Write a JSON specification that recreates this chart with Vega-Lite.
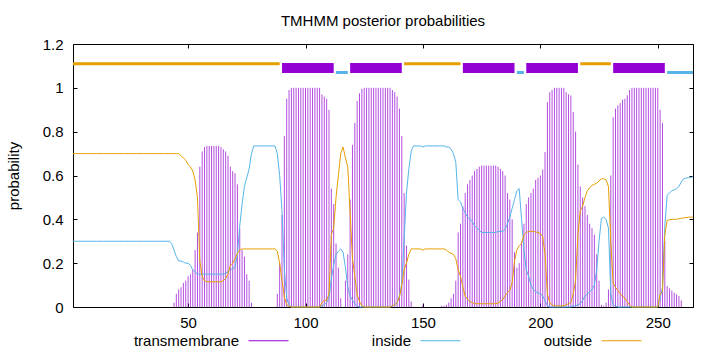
{
  "$schema": "https://vega.github.io/schema/vega-lite/v6.json",
  "width": 620,
  "height": 263,
  "autosize": {"type": "none"},
  "padding": {"left": 73, "top": 44, "right": 27, "bottom": 45},
  "background": "white",
  "title": {"text": "TMHMM posterior probabilities", "font": "Liberation Sans", "fontSize": 15, "fontWeight": "normal", "color": "black", "offset": -7, "baseline": "bottom"},
  "config": {
    "font": "Liberation Sans",
    "view": {"stroke": "black", "strokeWidth": 1},
    "legend": {
      "orient": "none", "legendX": 175, "legendY": 276, "direction": "horizontal",
      "symbolType": "stroke", "symbolSize": 1600, "symbolStrokeWidth": 1,
      "labelAlign": "right", "labelOffset": -50, "labelFont": "Liberation Sans", "labelFontSize": 15, "labelColor": "black",
      "columnPadding": 80, "padding": 0
    }
  },
  "datasets": {
    "seg": [
      {"type": "outside", "start": 1, "end": 89},
      {"type": "TM", "start": 90, "end": 112},
      {"type": "inside", "start": 113, "end": 118},
      {"type": "TM", "start": 119, "end": 141},
      {"type": "outside", "start": 142, "end": 166},
      {"type": "TM", "start": 167, "end": 189},
      {"type": "inside", "start": 190, "end": 193},
      {"type": "TM", "start": 194, "end": 216},
      {"type": "outside", "start": 217, "end": 230},
      {"type": "TM", "start": 231, "end": 253},
      {"type": "inside", "start": 254, "end": 265}
    ],
    "prob": [
      {"pos":1,"transmembrane":0,"inside":0.3,"outside":0.7},
      {"pos":2,"transmembrane":0,"inside":0.3,"outside":0.7},
      {"pos":3,"transmembrane":0,"inside":0.3,"outside":0.7},
      {"pos":4,"transmembrane":0,"inside":0.3,"outside":0.7},
      {"pos":5,"transmembrane":0,"inside":0.3,"outside":0.7},
      {"pos":6,"transmembrane":0,"inside":0.3,"outside":0.7},
      {"pos":7,"transmembrane":0,"inside":0.3,"outside":0.7},
      {"pos":8,"transmembrane":0,"inside":0.3,"outside":0.7},
      {"pos":9,"transmembrane":0,"inside":0.3,"outside":0.7},
      {"pos":10,"transmembrane":0,"inside":0.3,"outside":0.7},
      {"pos":11,"transmembrane":0,"inside":0.3,"outside":0.7},
      {"pos":12,"transmembrane":0,"inside":0.3,"outside":0.7},
      {"pos":13,"transmembrane":0,"inside":0.3,"outside":0.7},
      {"pos":14,"transmembrane":0,"inside":0.3,"outside":0.7},
      {"pos":15,"transmembrane":0,"inside":0.3,"outside":0.7},
      {"pos":16,"transmembrane":0,"inside":0.3,"outside":0.7},
      {"pos":17,"transmembrane":0,"inside":0.3,"outside":0.7},
      {"pos":18,"transmembrane":0,"inside":0.3,"outside":0.7},
      {"pos":19,"transmembrane":0,"inside":0.3,"outside":0.7},
      {"pos":20,"transmembrane":0,"inside":0.3,"outside":0.7},
      {"pos":21,"transmembrane":0,"inside":0.3,"outside":0.7},
      {"pos":22,"transmembrane":0,"inside":0.3,"outside":0.7},
      {"pos":23,"transmembrane":0,"inside":0.3,"outside":0.7},
      {"pos":24,"transmembrane":0,"inside":0.3,"outside":0.7},
      {"pos":25,"transmembrane":0,"inside":0.3,"outside":0.7},
      {"pos":26,"transmembrane":0,"inside":0.3,"outside":0.7},
      {"pos":27,"transmembrane":0,"inside":0.3,"outside":0.7},
      {"pos":28,"transmembrane":0,"inside":0.3,"outside":0.7},
      {"pos":29,"transmembrane":0,"inside":0.3,"outside":0.7},
      {"pos":30,"transmembrane":0,"inside":0.3,"outside":0.7},
      {"pos":31,"transmembrane":0,"inside":0.3,"outside":0.7},
      {"pos":32,"transmembrane":0,"inside":0.3,"outside":0.7},
      {"pos":33,"transmembrane":0,"inside":0.3,"outside":0.7},
      {"pos":34,"transmembrane":0,"inside":0.3,"outside":0.7},
      {"pos":35,"transmembrane":0,"inside":0.3,"outside":0.7},
      {"pos":36,"transmembrane":0,"inside":0.3,"outside":0.7},
      {"pos":37,"transmembrane":0,"inside":0.3,"outside":0.7},
      {"pos":38,"transmembrane":0,"inside":0.3,"outside":0.7},
      {"pos":39,"transmembrane":0,"inside":0.3,"outside":0.7},
      {"pos":40,"transmembrane":0,"inside":0.3,"outside":0.7},
      {"pos":41,"transmembrane":0,"inside":0.3,"outside":0.7},
      {"pos":42,"transmembrane":0,"inside":0.3,"outside":0.7},
      {"pos":43,"transmembrane":0,"inside":0.29,"outside":0.7},
      {"pos":44,"transmembrane":0.02,"inside":0.26,"outside":0.7},
      {"pos":45,"transmembrane":0.06,"inside":0.23,"outside":0.7},
      {"pos":46,"transmembrane":0.08,"inside":0.21,"outside":0.7},
      {"pos":47,"transmembrane":0.09,"inside":0.21,"outside":0.69},
      {"pos":48,"transmembrane":0.11,"inside":0.205,"outside":0.68},
      {"pos":49,"transmembrane":0.12,"inside":0.2,"outside":0.67},
      {"pos":50,"transmembrane":0.14,"inside":0.2,"outside":0.65},
      {"pos":51,"transmembrane":0.15,"inside":0.19,"outside":0.64},
      {"pos":52,"transmembrane":0.17,"inside":0.17,"outside":0.62},
      {"pos":53,"transmembrane":0.26,"inside":0.16,"outside":0.58},
      {"pos":54,"transmembrane":0.34,"inside":0.15,"outside":0.5},
      {"pos":55,"transmembrane":0.64,"inside":0.15,"outside":0.21},
      {"pos":56,"transmembrane":0.71,"inside":0.15,"outside":0.14},
      {"pos":57,"transmembrane":0.73,"inside":0.15,"outside":0.12},
      {"pos":58,"transmembrane":0.735,"inside":0.15,"outside":0.115},
      {"pos":59,"transmembrane":0.735,"inside":0.15,"outside":0.115},
      {"pos":60,"transmembrane":0.735,"inside":0.15,"outside":0.115},
      {"pos":61,"transmembrane":0.735,"inside":0.15,"outside":0.115},
      {"pos":62,"transmembrane":0.735,"inside":0.15,"outside":0.115},
      {"pos":63,"transmembrane":0.735,"inside":0.15,"outside":0.115},
      {"pos":64,"transmembrane":0.73,"inside":0.15,"outside":0.115},
      {"pos":65,"transmembrane":0.72,"inside":0.15,"outside":0.12},
      {"pos":66,"transmembrane":0.71,"inside":0.155,"outside":0.13},
      {"pos":67,"transmembrane":0.69,"inside":0.16,"outside":0.15},
      {"pos":68,"transmembrane":0.64,"inside":0.17,"outside":0.19},
      {"pos":69,"transmembrane":0.62,"inside":0.175,"outside":0.2},
      {"pos":70,"transmembrane":0.61,"inside":0.18,"outside":0.22},
      {"pos":71,"transmembrane":0.56,"inside":0.24,"outside":0.245},
      {"pos":72,"transmembrane":0.36,"inside":0.37,"outside":0.26},
      {"pos":73,"transmembrane":0.26,"inside":0.47,"outside":0.265},
      {"pos":74,"transmembrane":0.23,"inside":0.55,"outside":0.265},
      {"pos":75,"transmembrane":0.15,"inside":0.59,"outside":0.265},
      {"pos":76,"transmembrane":0.12,"inside":0.63,"outside":0.265},
      {"pos":77,"transmembrane":0.02,"inside":0.7,"outside":0.265},
      {"pos":78,"transmembrane":0,"inside":0.735,"outside":0.265},
      {"pos":79,"transmembrane":0,"inside":0.735,"outside":0.265},
      {"pos":80,"transmembrane":0,"inside":0.735,"outside":0.265},
      {"pos":81,"transmembrane":0,"inside":0.735,"outside":0.265},
      {"pos":82,"transmembrane":0,"inside":0.735,"outside":0.265},
      {"pos":83,"transmembrane":0,"inside":0.735,"outside":0.265},
      {"pos":84,"transmembrane":0,"inside":0.735,"outside":0.265},
      {"pos":85,"transmembrane":0,"inside":0.735,"outside":0.265},
      {"pos":86,"transmembrane":0,"inside":0.735,"outside":0.265},
      {"pos":87,"transmembrane":0,"inside":0.735,"outside":0.265},
      {"pos":88,"transmembrane":0.06,"inside":0.7,"outside":0.255},
      {"pos":89,"transmembrane":0.2,"inside":0.6,"outside":0.2},
      {"pos":90,"transmembrane":0.42,"inside":0.44,"outside":0.12},
      {"pos":91,"transmembrane":0.78,"inside":0.17,"outside":0.045},
      {"pos":92,"transmembrane":0.95,"inside":0.04,"outside":0.01},
      {"pos":93,"transmembrane":0.99,"inside":0.01,"outside":0.003},
      {"pos":94,"transmembrane":1,"inside":0,"outside":0},
      {"pos":95,"transmembrane":1,"inside":0,"outside":0},
      {"pos":96,"transmembrane":1,"inside":0,"outside":0},
      {"pos":97,"transmembrane":1,"inside":0,"outside":0},
      {"pos":98,"transmembrane":1,"inside":0,"outside":0},
      {"pos":99,"transmembrane":1,"inside":0,"outside":0},
      {"pos":100,"transmembrane":1,"inside":0,"outside":0},
      {"pos":101,"transmembrane":1,"inside":0,"outside":0},
      {"pos":102,"transmembrane":1,"inside":0,"outside":0},
      {"pos":103,"transmembrane":1,"inside":0,"outside":0},
      {"pos":104,"transmembrane":1,"inside":0,"outside":0},
      {"pos":105,"transmembrane":1,"inside":0,"outside":0},
      {"pos":106,"transmembrane":1,"inside":0,"outside":0},
      {"pos":107,"transmembrane":0.97,"inside":0.005,"outside":0.02},
      {"pos":108,"transmembrane":0.96,"inside":0.01,"outside":0.03},
      {"pos":109,"transmembrane":0.95,"inside":0.02,"outside":0.03},
      {"pos":110,"transmembrane":0.9,"inside":0.04,"outside":0.06},
      {"pos":111,"transmembrane":0.54,"inside":0.13,"outside":0.33},
      {"pos":112,"transmembrane":0.47,"inside":0.19,"outside":0.36},
      {"pos":113,"transmembrane":0.29,"inside":0.24,"outside":0.5},
      {"pos":114,"transmembrane":0.18,"inside":0.255,"outside":0.6},
      {"pos":115,"transmembrane":0.04,"inside":0.265,"outside":0.7},
      {"pos":116,"transmembrane":0,"inside":0.25,"outside":0.73},
      {"pos":117,"transmembrane":0.12,"inside":0.18,"outside":0.68},
      {"pos":118,"transmembrane":0.24,"inside":0.09,"outside":0.64},
      {"pos":119,"transmembrane":0.49,"inside":0.05,"outside":0.43},
      {"pos":120,"transmembrane":0.74,"inside":0.03,"outside":0.22},
      {"pos":121,"transmembrane":0.84,"inside":0.015,"outside":0.14},
      {"pos":122,"transmembrane":0.94,"inside":0.005,"outside":0.055},
      {"pos":123,"transmembrane":0.975,"inside":0,"outside":0.025},
      {"pos":124,"transmembrane":0.995,"inside":0,"outside":0.005},
      {"pos":125,"transmembrane":1,"inside":0,"outside":0},
      {"pos":126,"transmembrane":1,"inside":0,"outside":0},
      {"pos":127,"transmembrane":1,"inside":0,"outside":0},
      {"pos":128,"transmembrane":1,"inside":0,"outside":0},
      {"pos":129,"transmembrane":1,"inside":0,"outside":0},
      {"pos":130,"transmembrane":1,"inside":0,"outside":0},
      {"pos":131,"transmembrane":1,"inside":0,"outside":0},
      {"pos":132,"transmembrane":1,"inside":0,"outside":0},
      {"pos":133,"transmembrane":1,"inside":0,"outside":0},
      {"pos":134,"transmembrane":1,"inside":0,"outside":0},
      {"pos":135,"transmembrane":1,"inside":0,"outside":0},
      {"pos":136,"transmembrane":1,"inside":0,"outside":0},
      {"pos":137,"transmembrane":0.99,"inside":0.005,"outside":0.005},
      {"pos":138,"transmembrane":0.98,"inside":0.01,"outside":0.01},
      {"pos":139,"transmembrane":0.96,"inside":0.02,"outside":0.02},
      {"pos":140,"transmembrane":0.905,"inside":0.05,"outside":0.045},
      {"pos":141,"transmembrane":0.78,"inside":0.11,"outside":0.1},
      {"pos":142,"transmembrane":0.52,"inside":0.31,"outside":0.17},
      {"pos":143,"transmembrane":0.28,"inside":0.52,"outside":0.2},
      {"pos":144,"transmembrane":0.125,"inside":0.63,"outside":0.24},
      {"pos":145,"transmembrane":0.025,"inside":0.71,"outside":0.265},
      {"pos":146,"transmembrane":0,"inside":0.735,"outside":0.265},
      {"pos":147,"transmembrane":0,"inside":0.735,"outside":0.265},
      {"pos":148,"transmembrane":0,"inside":0.735,"outside":0.265},
      {"pos":149,"transmembrane":0,"inside":0.735,"outside":0.265},
      {"pos":150,"transmembrane":0.01,"inside":0.73,"outside":0.26},
      {"pos":151,"transmembrane":0,"inside":0.735,"outside":0.265},
      {"pos":152,"transmembrane":0,"inside":0.735,"outside":0.265},
      {"pos":153,"transmembrane":0,"inside":0.735,"outside":0.265},
      {"pos":154,"transmembrane":0,"inside":0.735,"outside":0.265},
      {"pos":155,"transmembrane":0,"inside":0.735,"outside":0.265},
      {"pos":156,"transmembrane":0,"inside":0.735,"outside":0.265},
      {"pos":157,"transmembrane":0,"inside":0.735,"outside":0.265},
      {"pos":158,"transmembrane":0.005,"inside":0.735,"outside":0.265},
      {"pos":159,"transmembrane":0.005,"inside":0.735,"outside":0.265},
      {"pos":160,"transmembrane":0.01,"inside":0.73,"outside":0.26},
      {"pos":161,"transmembrane":0.02,"inside":0.73,"outside":0.25},
      {"pos":162,"transmembrane":0.04,"inside":0.72,"outside":0.245},
      {"pos":163,"transmembrane":0.06,"inside":0.7,"outside":0.24},
      {"pos":164,"transmembrane":0.12,"inside":0.66,"outside":0.22},
      {"pos":165,"transmembrane":0.34,"inside":0.49,"outside":0.17},
      {"pos":166,"transmembrane":0.38,"inside":0.48,"outside":0.14},
      {"pos":167,"transmembrane":0.46,"inside":0.45,"outside":0.09},
      {"pos":168,"transmembrane":0.52,"inside":0.43,"outside":0.05},
      {"pos":169,"transmembrane":0.56,"inside":0.41,"outside":0.035},
      {"pos":170,"transmembrane":0.58,"inside":0.4,"outside":0.025},
      {"pos":171,"transmembrane":0.6,"inside":0.39,"outside":0.02},
      {"pos":172,"transmembrane":0.62,"inside":0.37,"outside":0.015},
      {"pos":173,"transmembrane":0.63,"inside":0.36,"outside":0.015},
      {"pos":174,"transmembrane":0.64,"inside":0.35,"outside":0.015},
      {"pos":175,"transmembrane":0.645,"inside":0.34,"outside":0.015},
      {"pos":176,"transmembrane":0.645,"inside":0.34,"outside":0.015},
      {"pos":177,"transmembrane":0.645,"inside":0.34,"outside":0.015},
      {"pos":178,"transmembrane":0.645,"inside":0.34,"outside":0.015},
      {"pos":179,"transmembrane":0.645,"inside":0.34,"outside":0.015},
      {"pos":180,"transmembrane":0.645,"inside":0.34,"outside":0.015},
      {"pos":181,"transmembrane":0.645,"inside":0.34,"outside":0.015},
      {"pos":182,"transmembrane":0.64,"inside":0.345,"outside":0.018},
      {"pos":183,"transmembrane":0.63,"inside":0.345,"outside":0.025},
      {"pos":184,"transmembrane":0.62,"inside":0.345,"outside":0.035},
      {"pos":185,"transmembrane":0.6,"inside":0.355,"outside":0.05},
      {"pos":186,"transmembrane":0.52,"inside":0.38,"outside":0.065},
      {"pos":187,"transmembrane":0.49,"inside":0.41,"outside":0.076},
      {"pos":188,"transmembrane":0.4,"inside":0.45,"outside":0.11},
      {"pos":189,"transmembrane":0.25,"inside":0.49,"outside":0.21},
      {"pos":190,"transmembrane":0.18,"inside":0.53,"outside":0.26},
      {"pos":191,"transmembrane":0.2,"inside":0.54,"outside":0.28},
      {"pos":192,"transmembrane":0.3,"inside":0.4,"outside":0.29},
      {"pos":193,"transmembrane":0.38,"inside":0.26,"outside":0.33},
      {"pos":194,"transmembrane":0.47,"inside":0.17,"outside":0.34},
      {"pos":195,"transmembrane":0.5,"inside":0.14,"outside":0.345},
      {"pos":196,"transmembrane":0.52,"inside":0.1,"outside":0.345},
      {"pos":197,"transmembrane":0.54,"inside":0.08,"outside":0.345},
      {"pos":198,"transmembrane":0.58,"inside":0.07,"outside":0.342},
      {"pos":199,"transmembrane":0.59,"inside":0.065,"outside":0.34},
      {"pos":200,"transmembrane":0.6,"inside":0.06,"outside":0.335},
      {"pos":201,"transmembrane":0.627,"inside":0.05,"outside":0.32},
      {"pos":202,"transmembrane":0.707,"inside":0.03,"outside":0.24},
      {"pos":203,"transmembrane":0.935,"inside":0.005,"outside":0.06},
      {"pos":204,"transmembrane":0.98,"inside":0,"outside":0.02},
      {"pos":205,"transmembrane":0.99,"inside":0,"outside":0.01},
      {"pos":206,"transmembrane":1,"inside":0,"outside":0.005},
      {"pos":207,"transmembrane":1,"inside":0,"outside":0.005},
      {"pos":208,"transmembrane":1,"inside":0,"outside":0.005},
      {"pos":209,"transmembrane":1,"inside":0,"outside":0.005},
      {"pos":210,"transmembrane":1,"inside":0,"outside":0.005},
      {"pos":211,"transmembrane":0.98,"inside":0,"outside":0.01},
      {"pos":212,"transmembrane":0.97,"inside":0,"outside":0.015},
      {"pos":213,"transmembrane":0.965,"inside":0,"outside":0.02},
      {"pos":214,"transmembrane":0.89,"inside":0.005,"outside":0.06},
      {"pos":215,"transmembrane":0.8,"inside":0.005,"outside":0.12},
      {"pos":216,"transmembrane":0.65,"inside":0.01,"outside":0.33},
      {"pos":217,"transmembrane":0.55,"inside":0.015,"outside":0.44},
      {"pos":218,"transmembrane":0.5,"inside":0.03,"outside":0.46},
      {"pos":219,"transmembrane":0.46,"inside":0.05,"outside":0.5},
      {"pos":220,"transmembrane":0.42,"inside":0.06,"outside":0.53},
      {"pos":221,"transmembrane":0.38,"inside":0.07,"outside":0.545},
      {"pos":222,"transmembrane":0.36,"inside":0.08,"outside":0.555},
      {"pos":223,"transmembrane":0.33,"inside":0.1,"outside":0.56},
      {"pos":224,"transmembrane":0.24,"inside":0.17,"outside":0.565},
      {"pos":225,"transmembrane":0.12,"inside":0.3,"outside":0.575},
      {"pos":226,"transmembrane":0.01,"inside":0.405,"outside":0.585},
      {"pos":227,"transmembrane":0.005,"inside":0.41,"outside":0.585},
      {"pos":228,"transmembrane":0.02,"inside":0.4,"outside":0.58},
      {"pos":229,"transmembrane":0.08,"inside":0.36,"outside":0.55},
      {"pos":230,"transmembrane":0.6,"inside":0.06,"outside":0.3},
      {"pos":231,"transmembrane":0.866,"inside":0.01,"outside":0.11},
      {"pos":232,"transmembrane":0.905,"inside":0.005,"outside":0.09},
      {"pos":233,"transmembrane":0.92,"inside":0,"outside":0.075},
      {"pos":234,"transmembrane":0.93,"inside":0,"outside":0.06},
      {"pos":235,"transmembrane":0.946,"inside":0,"outside":0.05},
      {"pos":236,"transmembrane":0.95,"inside":0,"outside":0.04},
      {"pos":237,"transmembrane":0.966,"inside":0,"outside":0.025},
      {"pos":238,"transmembrane":0.99,"inside":0,"outside":0.008},
      {"pos":239,"transmembrane":1,"inside":0,"outside":0},
      {"pos":240,"transmembrane":1,"inside":0,"outside":0},
      {"pos":241,"transmembrane":1,"inside":0,"outside":0},
      {"pos":242,"transmembrane":1,"inside":0,"outside":0},
      {"pos":243,"transmembrane":1,"inside":0,"outside":0},
      {"pos":244,"transmembrane":1,"inside":0,"outside":0},
      {"pos":245,"transmembrane":1,"inside":0,"outside":0},
      {"pos":246,"transmembrane":1,"inside":0,"outside":0},
      {"pos":247,"transmembrane":1,"inside":0,"outside":0},
      {"pos":248,"transmembrane":1,"inside":0,"outside":0},
      {"pos":249,"transmembrane":1,"inside":0,"outside":0},
      {"pos":250,"transmembrane":1,"inside":0,"outside":0},
      {"pos":251,"transmembrane":0.9,"inside":0.04,"outside":0.06},
      {"pos":252,"transmembrane":0.84,"inside":0.09,"outside":0.07},
      {"pos":253,"transmembrane":0.3,"inside":0.37,"outside":0.33},
      {"pos":254,"transmembrane":0.095,"inside":0.51,"outside":0.395},
      {"pos":255,"transmembrane":0.085,"inside":0.52,"outside":0.398},
      {"pos":256,"transmembrane":0.075,"inside":0.53,"outside":0.4},
      {"pos":257,"transmembrane":0.065,"inside":0.535,"outside":0.4},
      {"pos":258,"transmembrane":0.058,"inside":0.54,"outside":0.4},
      {"pos":259,"transmembrane":0.05,"inside":0.55,"outside":0.403},
      {"pos":260,"transmembrane":0.03,"inside":0.57,"outside":0.405},
      {"pos":261,"transmembrane":0,"inside":0.585,"outside":0.407},
      {"pos":262,"transmembrane":0,"inside":0.588,"outside":0.408},
      {"pos":263,"transmembrane":0,"inside":0.59,"outside":0.41},
      {"pos":264,"transmembrane":0,"inside":0.59,"outside":0.41},
      {"pos":265,"transmembrane":0,"inside":0.595,"outside":0.41}
    ]
  },
  "data": {"name": "prob"},
  "layer": [
    {
      "transform": [{"filter": "datum.transmembrane > 0"}],
      "mark": {"type": "rule", "strokeWidth": 0.7},
      "encoding": {
        "x": {"field": "pos", "type": "quantitative", "scale": {"domain": [1, 265], "nice": false, "zero": false},
              "axis": {"orient": "bottom", "values": [50, 100, 150, 200, 250], "title": null, "domain": false, "grid": false, "tickSize": -4, "tickColor": "black", "labelPadding": 12, "labelFont": "Liberation Sans", "labelFontSize": 15, "labelColor": "black"}},
        "y": {"field": "transmembrane", "type": "quantitative", "scale": {"domain": [0, 1.2], "nice": false},
              "axis": {"orient": "left", "values": [0, 0.2, 0.4, 0.6, 0.8, 1, 1.2], "format": "~g", "title": "probability", "titleFont": "Liberation Sans", "titleFontSize": 15, "titleFontWeight": "normal", "titleColor": "black", "titlePadding": 21, "domain": false, "grid": false, "tickSize": -4, "tickColor": "black", "labelPadding": 14, "labelFont": "Liberation Sans", "labelFontSize": 15, "labelColor": "black"}},
        "y2": {"datum": 0},
        "color": {"datum": "transmembrane", "type": "nominal",
                  "scale": {"domain": ["transmembrane", "inside", "outside"], "range": ["#9400D3", "#56B4E9", "#E69F00"]},
                  "legend": {"title": null}}
      }
    },
    {
      "transform": [{"fold": ["inside", "outside"], "as": ["series", "value"]}],
      "mark": {"type": "line", "strokeWidth": 1},
      "encoding": {
        "x": {"field": "pos", "type": "quantitative",
              "axis": {"orient": "top", "values": [50, 100, 150, 200, 250], "title": null, "labels": false, "domain": false, "grid": false, "tickSize": -4, "tickColor": "black"}},
        "y": {"field": "value", "type": "quantitative",
              "axis": {"orient": "right", "values": [0, 0.2, 0.4, 0.6, 0.8, 1, 1.2], "title": null, "labels": false, "domain": false, "grid": false, "tickSize": -4, "tickColor": "black"}},
        "color": {"field": "series", "type": "nominal", "legend": {"title": null}}
      }
    },
    {
      "data": {"name": "seg"},
      "transform": [{"filter": "datum.type === 'outside'"}],
      "mark": {"type": "rule", "color": "#E69F00", "strokeWidth": 3},
      "encoding": {
        "x": {"field": "start", "type": "quantitative", "axis": null},
        "x2": {"field": "end"},
        "y": {"datum": 1.11, "type": "quantitative", "axis": null}
      }
    },
    {
      "data": {"name": "seg"},
      "transform": [{"filter": "datum.type === 'inside'"}],
      "mark": {"type": "rule", "color": "#56B4E9", "strokeWidth": 3},
      "encoding": {
        "x": {"field": "start", "type": "quantitative", "axis": null},
        "x2": {"field": "end"},
        "y": {"datum": 1.07, "type": "quantitative", "axis": null}
      }
    },
    {
      "data": {"name": "seg"},
      "transform": [{"filter": "datum.type === 'TM'"}],
      "mark": {"type": "rule", "color": "#9400D3", "strokeWidth": 10},
      "encoding": {
        "x": {"field": "start", "type": "quantitative", "axis": null},
        "x2": {"field": "end"},
        "y": {"datum": 1.09, "type": "quantitative", "axis": null}
      }
    }
  ],
  "resolve": {"axis": {"x": "independent", "y": "independent"}}
}
